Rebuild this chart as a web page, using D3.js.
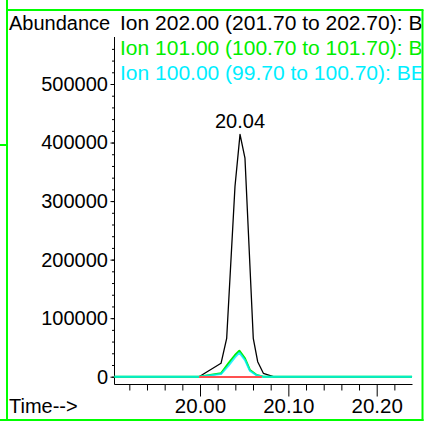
<!DOCTYPE html>
<html>
<head>
<meta charset="utf-8">
<script src="https://cdn.jsdelivr.net/npm/d3@7/dist/d3.min.js"></script>
<style>
  html, body { margin: 0; padding: 0; background: #fff; }
  svg { display: block; }
  text { font-family: "Liberation Sans", Arial, sans-serif; }
</style>
</head>
<body>
<svg id="chart" width="425" height="423"></svg>
<script>
// ---- data ----
const legendLabels = [
  "Ion 202.00 (201.70 to 202.70): BE",
  "Ion 101.00 (100.70 to 101.70): BE",
  "Ion 100.00 (99.70 to 100.70): BE"
];
const seriesColors = ["#000000", "#00ee00", "#00eeff"];

// Ion 202 trace (time in min, abundance)
const ion202Time  = [19.903, 19.9989, 20.0238, 20.0302, 20.0396, 20.0453, 20.0509, 20.0603, 20.0653, 20.0717, 20.0830, 20.240];
const ion202Value = [0,      0,       22900,   65600,   324800,  414000,  373300,  65600,   25600,   5800,    0,       0];

// Ion 101 trace
const ion101Time  = [19.903, 19.9989, 20.0238, 20.0321, 20.0396, 20.0445, 20.0509, 20.0566, 20.0642, 20.0717, 20.240];
const ion101Value = [0,      0,       5800,    22900,   37000,   44400,   31400,   11400,   2900,    0,       0];

// Ion 100 trace
const ion100Time  = [19.903, 19.9989, 20.0238, 20.0321, 20.0396, 20.0445, 20.0509, 20.0566, 20.0642, 20.0717, 20.240];
const ion100Value = [0,      0,       4500,    18500,   33000,   41000,   28500,   9700,    2300,    0,       0];

// integration baseline (start / end of peak)
const integStart = [19.9989];
const integEnd   = [20.0700];

const peakLabelTime = 20.0453;
const peakLabelText = "20.04";

const xMajorTicks = [20.00, 20.10, 20.20];
const xMinorTicks = [19.92, 19.94, 19.96, 19.98, 20.02, 20.04, 20.06, 20.08, 20.12, 20.14, 20.16, 20.18, 20.22];
const yMajorTicks = [0, 100000, 200000, 300000, 400000, 500000];
const yMinorTicks = d3.range(0, 580000, 20000);

// ---- layout ----
const svg = d3.select("#chart");
const x = d3.scaleLinear().domain([20.0, 20.2]).range([200, 376.7]);
const y = d3.scaleLinear().domain([0, 500000]).range([376.7, 84]);
const xAxisY = 384.5;
const yAxisX = 114.5;

// frame
const frame = svg.append("g").attr("stroke", "#00ff00").attr("stroke-width", 2).attr("fill", "none");
frame.append("line").attr("x1", 7).attr("y1", 0).attr("x2", 7).attr("y2", 421);
frame.append("line").attr("x1", 6).attr("y1", 10).attr("x2", 423.5).attr("y2", 10);
frame.append("line").attr("x1", 422.5).attr("y1", 10).attr("x2", 422.5).attr("y2", 421);
frame.append("line").attr("x1", 0).attr("y1", 420).attr("x2", 423.5).attr("y2", 420);
frame.append("line").attr("x1", 0).attr("y1", 145).attr("x2", 7).attr("y2", 145);

// clip for legend text (reference clips at the frame)
svg.append("clipPath").attr("id", "clipR").append("rect")
  .attr("x", 0).attr("y", 0).attr("width", 421.5).attr("height", 423);

// y axis
const yAx = svg.append("g").attr("transform", `translate(${yAxisX},0)`);
yAx.call(d3.axisLeft(y).tickValues(yMajorTicks).tickSize(4).tickPadding(2.5).tickFormat(d3.format("d")));
yAx.select(".domain").remove();
const yMin = svg.append("g").attr("transform", `translate(${yAxisX},0)`);
yMin.call(d3.axisLeft(y).tickValues(yMinorTicks).tickSize(2.5).tickFormat(""));
yMin.select(".domain").remove();
svg.append("line").attr("x1", yAxisX).attr("x2", yAxisX).attr("y1", 37).attr("y2", xAxisY)
  .attr("stroke", "#000").attr("stroke-width", 1);

// x axis
const xAx = svg.append("g").attr("transform", `translate(0,${xAxisY})`);
xAx.call(d3.axisBottom(x).tickValues(xMajorTicks).tickSize(12).tickPadding(2).tickFormat(d3.format(".2f")));
xAx.select(".domain").remove();
const xMin = svg.append("g").attr("transform", `translate(0,${xAxisY})`);
xMin.call(d3.axisBottom(x).tickValues(xMinorTicks).tickSize(6).tickFormat(""));
xMin.select(".domain").remove();
svg.append("line").attr("x1", yAxisX).attr("x2", 412.5).attr("y1", xAxisY).attr("y2", xAxisY)
  .attr("stroke", "#000").attr("stroke-width", 1);

svg.selectAll(".tick text").attr("fill", "#000").style("font-family", '"Liberation Sans", Arial, sans-serif');
yAx.selectAll(".tick text").style("font-size", "20px");
xAx.selectAll(".tick text").style("font-size", "20.5px");
svg.selectAll(".tick line").attr("stroke", "#000");

// traces (black first, so the coloured traces cover its baseline)
const line = d3.line().x(d => x(d[0])).y(d => y(d[1]));
const traces = [
  { t: ion202Time, v: ion202Value, c: seriesColors[0], w: 1.3, o: 1 },
  { t: ion101Time, v: ion101Value, c: seriesColors[1], w: 2, o: 1 },
  { t: ion100Time, v: ion100Value, c: seriesColors[2], w: 2, o: 0.8 }
];
traces.forEach(s => {
  svg.append("path")
    .datum(s.t.map((t, i) => [t, s.v[i]]))
    .attr("d", line)
    .attr("fill", "none")
    .attr("stroke", s.c)
    .attr("stroke-width", s.w)
    .attr("stroke-opacity", s.o)
    .attr("stroke-linejoin", "round");
});

// integration baseline
integStart.forEach((s, i) => {
  svg.append("line")
    .attr("x1", x(s)).attr("x2", x(integEnd[i]))
    .attr("y1", y(0) + 0.3).attr("y2", y(0) + 0.3)
    .attr("stroke", "#ff5050").attr("stroke-width", 2);
});

// peak label
svg.append("text").attr("x", x(peakLabelTime)).attr("y", 128)
  .attr("text-anchor", "middle").style("font-size", "20px").text(peakLabelText);

// axis titles
svg.append("text").attr("x", 9).attr("y", 30).style("font-size", "20px").text("Abundance");
svg.append("text").attr("x", 9).attr("y", 413).style("font-size", "20px").text("Time-->");

// legend
const lg = svg.append("g").attr("clip-path", "url(#clipR)");
legendLabels.forEach((l, i) => {
  lg.append("text").attr("x", 120).attr("y", 30 + i * 25)
    .attr("fill", seriesColors[i]).style("font-size", "21px").text(l);
});
</script>
</body>
</html>
